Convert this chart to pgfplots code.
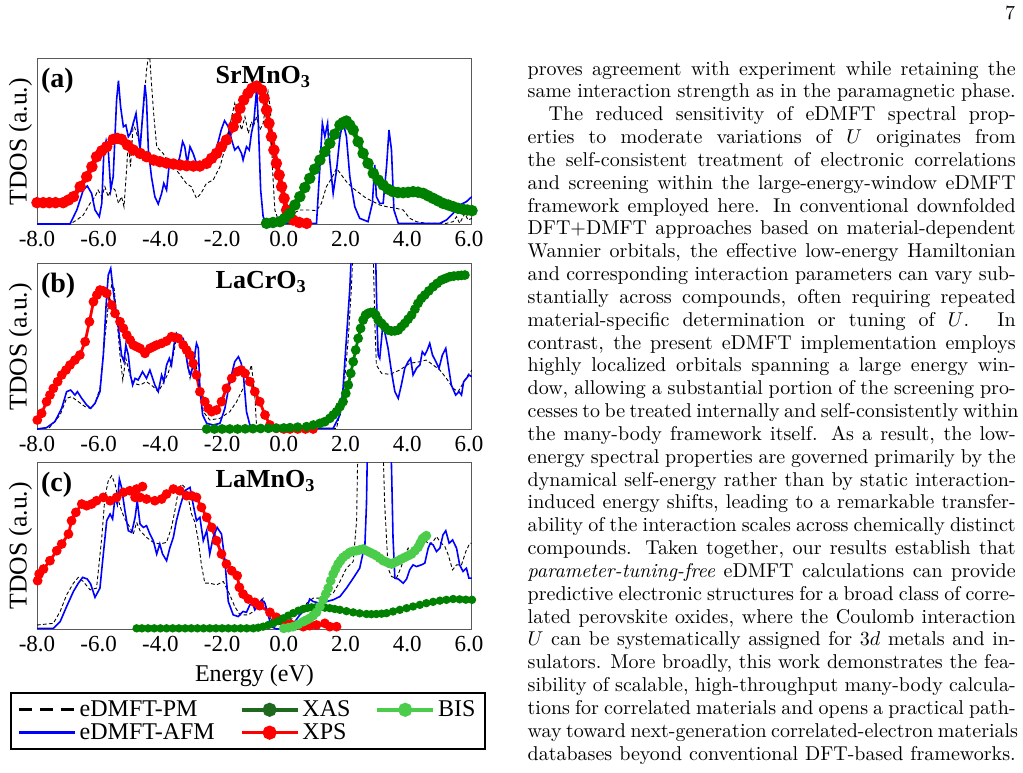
\documentclass[border=0pt]{standalone}
\usepackage{fontspec}
\newfontfamily\figfont{Liberation Serif}
\usepackage{pgfplots}
\pgfplotsset{compat=1.18}
\definecolor{afm}{RGB}{0,0,255}
\definecolor{xps}{RGB}{255,0,0}
\definecolor{xas}{RGB}{0,128,0}
\definecolor{xasleg}{RGB}{30,105,30}
\definecolor{bis}{RGB}{75,205,75}
\pgfplotsset{
  panel/.style={scale only axis, width=217.5pt, height=83.3pt,
    xmin=-8, xmax=6.1, ymin=0, ymax=1,
    xtick={-8,-6,-4,-2,0,2,4,6},
    xticklabels={-8.0,-6.0,-4.0,-2.0,0.0,2.0,4.0,6.0},
    ytick=\empty, major tick length=0pt,
    axis line style={black!65, line width=0.5pt},
    xticklabel style={font=\figfont\fontsize{11.5}{12}\selectfont, anchor=base, inner sep=0pt, yshift=-11pt},
    ylabel={TDOS (a.u.)},
    ylabel style={font=\figfont\fontsize{12.8}{14}\selectfont, at={(axis description cs:-0.024,0.5)}, anchor=base, inner sep=0pt},
    clip=true},
  pm/.style={black, dash pattern=on 1.8pt off 1.2pt, line width=0.45pt, forget plot},
  afmline/.style={afm, line width=0.8pt, forget plot},
  expA/.style={line width=2.4pt, mark=*, mark size=1.6pt, forget plot},
  expB/.style={line width=1.4pt, mark=*, mark size=1.7pt, forget plot},
}
\newcommand\Lab[2]{%
  \node[anchor=base west, inner sep=0pt, font=\figfont\bfseries\fontsize{14}{16}\selectfont] at (rel axis cs:0.0085,0.823) {#1};
  \node[anchor=base west, inner sep=0pt, font=\figfont\bfseries\fontsize{13}{15}\selectfont] at (rel axis cs:0.41,0.85) {#2};}
\newcommand\Ln[2]{\node[anchor=base west, inner sep=0pt, font=\fontsize{10}{11.4}\selectfont] at (263.65pt,{348.45pt-#1*11.415pt}) {#2};}
\newcommand\J[1]{\makebox[244pt][s]{#1}}
\begin{document}
\begin{tikzpicture}
\path[use as bounding box] (0,0) rectangle (511.5pt,386pt);
% ---------------- (a) SrMnO3
\begin{axis}[panel, at={(18.5pt,273.5pt)}, anchor=south west]
\addplot[xps, expA] coordinates {(-8.0,0.134) (-7.8,0.134) (-7.6,0.134) (-7.4,0.134) (-7.15,0.134) (-6.98,0.15) (-6.82,0.17) (-6.6,0.23) (-6.39,0.29) (-6.22,0.35) (-6.07,0.41) (-5.9,0.445) (-5.74,0.47) (-5.53,0.514) (-5.4,0.52) (-5.26,0.514) (-5.07,0.48) (-4.88,0.45) (-4.66,0.43) (-4.45,0.41) (-4.22,0.39) (-4.02,0.38) (-3.8,0.372) (-3.58,0.366) (-3.36,0.36) (-3.15,0.356) (-2.93,0.354) (-2.72,0.354) (-2.5,0.37) (-2.34,0.4) (-2.18,0.43) (-2.02,0.47) (-1.86,0.51) (-1.64,0.59) (-1.53,0.64) (-1.42,0.70) (-1.3,0.75) (-1.16,0.79) (-1.03,0.82) (-0.88,0.834) (-0.72,0.81) (-0.64,0.76) (-0.56,0.69) (-0.48,0.61) (-0.40,0.53) (-0.32,0.45) (-0.24,0.37) (-0.15,0.30) (-0.07,0.23) (0.01,0.16) (0.09,0.09) (0.2,0.05) (0.30,0.03) (0.5,0.015) (0.74,0.01)};
\addplot[xas, expA] coordinates {(-0.56,0.01) (-0.35,0.015) (-0.13,0.02) (0.03,0.04) (0.20,0.07) (0.36,0.12) (0.52,0.17) (0.68,0.225) (0.84,0.28) (1.0,0.335) (1.17,0.39) (1.33,0.44) (1.49,0.49) (1.65,0.545) (1.82,0.60) (1.92,0.615) (2.03,0.624) (2.14,0.60) (2.25,0.57) (2.41,0.50) (2.57,0.43) (2.73,0.37) (2.90,0.31) (3.06,0.27) (3.22,0.24) (3.38,0.215) (3.54,0.20) (3.7,0.195) (3.87,0.194) (4.03,0.196) (4.19,0.20) (4.35,0.197) (4.52,0.19) (4.68,0.175) (4.84,0.16) (5.0,0.145) (5.16,0.13) (5.33,0.12) (5.49,0.11) (5.65,0.1) (5.81,0.094) (5.95,0.09) (6.10,0.086)};
\addplot[pm] coordinates {(-8.0,0.006) (-6.93,0.006) (-6.71,0.03) (-6.50,0.06) (-6.28,0.13) (-6.12,0.17) (-6.02,0.21) (-5.90,0.17) (-5.80,0.23) (-5.69,0.17) (-5.58,0.23) (-5.47,0.21) (-5.36,0.13) (-5.26,0.17) (-5.18,0.11) (-5.09,0.35) (-5.04,0.51) (-4.97,0.35) (-4.88,0.61) (-4.77,0.55) (-4.66,0.49) (-4.55,0.69) (-4.45,0.93) (-4.36,1.05) (-4.29,0.85) (-4.21,0.65) (-4.12,0.47) (-4.02,0.45) (-3.91,0.43) (-3.80,0.39) (-3.69,0.35) (-3.58,0.37) (-3.48,0.33) (-3.32,0.29) (-3.16,0.25) (-3.00,0.23) (-2.83,0.16) (-2.68,0.19) (-2.51,0.25) (-2.29,0.27) (-2.07,0.35) (-1.86,0.49) (-1.69,0.65) (-1.59,0.73) (-1.48,0.65) (-1.37,0.57) (-1.26,0.65) (-1.15,0.55) (-1.05,0.62) (-0.99,0.59) (-0.88,0.65) (-0.78,0.57) (-0.67,0.61) (-0.56,0.75) (-0.51,0.80) (-0.43,0.69) (-0.37,0.35) (-0.29,0.09) (-0.18,0.03) (0.09,0.05) (0.30,0.07) (0.52,0.09) (0.84,0.09) (1.06,0.086) (1.22,0.13) (1.38,0.23) (1.55,0.28) (1.71,0.34) (1.87,0.30) (2.03,0.26) (2.25,0.22) (2.46,0.19) (2.68,0.16) (2.90,0.14) (3.11,0.12) (3.33,0.11) (3.65,0.10) (3.87,0.09) (4.08,0.04) (4.30,0.02) (4.62,0.01) (5.27,0.01) (5.49,0.02) (5.60,0.05) (5.70,0.01) (5.87,0.07) (5.97,0.03) (6.10,0.04)};
\addplot[afmline] coordinates {(-8.0,0.006) (-6.93,0.006) (-6.71,0.09) (-6.50,0.21) (-6.37,0.234) (-6.23,0.19) (-6.12,0.09) (-5.98,0.05) (-5.90,0.13) (-5.83,0.45) (-5.76,0.506) (-5.69,0.45) (-5.61,0.21) (-5.53,0.29) (-5.42,0.75) (-5.36,0.866) (-5.29,0.71) (-5.20,0.59) (-5.12,0.60) (-5.04,0.53) (-4.97,0.55) (-4.88,0.61) (-4.79,0.67) (-4.72,0.55) (-4.66,0.45) (-4.58,0.65) (-4.50,0.84) (-4.45,0.75) (-4.39,0.45) (-4.29,0.29) (-4.18,0.17) (-4.07,0.126) (-3.96,0.19) (-3.89,0.25) (-3.80,0.21) (-3.71,0.37) (-3.64,0.36) (-3.58,0.37) (-3.53,0.37) (-3.45,0.36) (-3.37,0.41) (-3.28,0.50) (-3.21,0.47) (-3.13,0.37) (-3.04,0.47) (-2.94,0.43) (-2.83,0.37) (-2.72,0.35) (-2.62,0.36) (-2.46,0.37) (-2.29,0.41) (-2.14,0.49) (-2.03,0.57) (-1.92,0.626) (-1.80,0.59) (-1.69,0.51) (-1.59,0.45) (-1.48,0.47) (-1.37,0.43) (-1.32,0.39) (-1.21,0.47) (-1.12,0.45) (-1.05,0.55) (-0.97,0.62) (-0.88,0.82) (-0.83,0.63) (-0.75,0.21) (-0.67,0.05) (-0.56,0.01) (1.06,0.01) (1.17,0.35) (1.25,0.61) (1.33,0.53) (1.42,0.61) (1.49,0.39) (1.60,0.19) (1.71,0.33) (1.82,0.53) (1.92,0.62) (2.03,0.53) (2.14,0.29) (2.30,0.11) (2.46,0.04) (2.73,0.02) (2.87,0.13) (2.95,0.36) (3.00,0.17) (3.11,0.13) (3.22,0.13) (3.33,0.35) (3.41,0.57) (3.49,0.45) (3.57,0.09) (3.71,0.01) (5.06,0.01) (5.27,0.03) (5.49,0.07) (5.70,0.12) (5.92,0.14) (6.03,0.16) (6.10,0.17)};
\Lab{(a)}{SrMnO\textsubscript{3}}
\end{axis}
% ---------------- (b) LaCrO3
\begin{axis}[panel, at={(18.5pt,171pt)}, anchor=south west]
\addplot[xps, expB] coordinates {(-7.99,0.06) (-7.85,0.10) (-7.69,0.17) (-7.58,0.21) (-7.47,0.25) (-7.33,0.29) (-7.20,0.33) (-7.06,0.36) (-6.93,0.39) (-6.77,0.42) (-6.61,0.45) (-6.44,0.53) (-6.30,0.65) (-6.17,0.77) (-6.06,0.81) (-5.96,0.84) (-5.85,0.835) (-5.74,0.82) (-5.58,0.75) (-5.47,0.70) (-5.31,0.65) (-5.20,0.61) (-5.09,0.57) (-4.98,0.54) (-4.88,0.51) (-4.77,0.50) (-4.66,0.49) (-4.50,0.46) (-4.34,0.49) (-4.23,0.50) (-4.12,0.51) (-3.96,0.52) (-3.80,0.534) (-3.64,0.56) (-3.53,0.555) (-3.42,0.55) (-3.26,0.51) (-3.15,0.48) (-3.04,0.45) (-2.94,0.40) (-2.83,0.33) (-2.72,0.23) (-2.56,0.17) (-2.45,0.13) (-2.34,0.11) (-2.18,0.12) (-2.02,0.17) (-1.86,0.25) (-1.69,0.31) (-1.51,0.35) (-1.38,0.36) (-1.26,0.34) (-1.10,0.29) (-0.94,0.23) (-0.78,0.17) (-0.61,0.09) (-0.45,0.03) (-0.24,0.01) (0.0,0.006) (0.2,0.006) (0.45,0.006) (0.7,0.006) (0.95,0.006)};
\addplot[xas, expB] coordinates {(-2.5,0.006) (-2.25,0.006) (-2.0,0.006) (-1.75,0.006) (-1.5,0.006) (-1.25,0.007) (-1.0,0.008) (-0.75,0.009) (-0.5,0.01) (-0.25,0.011) (0.0,0.012) (0.2,0.014) (0.45,0.017) (0.74,0.02) (0.96,0.03) (1.17,0.04) (1.33,0.05) (1.49,0.07) (1.60,0.09) (1.71,0.11) (1.82,0.14) (1.92,0.17) (2.01,0.22) (2.09,0.27) (2.17,0.34) (2.25,0.41) (2.33,0.48) (2.41,0.55) (2.49,0.61) (2.57,0.66) (2.65,0.69) (2.73,0.70) (2.81,0.705) (2.90,0.706) (2.98,0.69) (3.06,0.66) (3.17,0.64) (3.27,0.62) (3.38,0.60) (3.49,0.594) (3.60,0.595) (3.71,0.60) (3.81,0.62) (3.92,0.64) (4.03,0.665) (4.14,0.69) (4.25,0.725) (4.35,0.76) (4.46,0.79) (4.57,0.81) (4.70,0.835) (4.84,0.86) (4.97,0.88) (5.11,0.90) (5.24,0.91) (5.38,0.92) (5.51,0.924) (5.65,0.926) (5.76,0.928) (5.87,0.93)};
\addplot[pm] coordinates {(-8.0,0.006) (-7.6,0.014) (-7.25,0.09) (-7.04,0.19) (-6.88,0.20) (-6.66,0.17) (-6.44,0.14) (-6.28,0.13) (-6.12,0.16) (-5.96,0.25) (-5.80,0.55) (-5.69,0.75) (-5.58,0.87) (-5.50,0.85) (-5.42,0.69) (-5.31,0.45) (-5.22,0.30) (-5.12,0.43) (-4.99,0.33) (-4.88,0.28) (-4.66,0.27) (-4.45,0.29) (-4.23,0.26) (-4.07,0.23) (-3.91,0.28) (-3.75,0.34) (-3.58,0.45) (-3.48,0.55) (-3.37,0.53) (-3.21,0.49) (-3.04,0.31) (-2.88,0.45) (-2.77,0.29) (-2.61,0.11) (-2.40,0.06) (-2.07,0.07) (-1.75,0.11) (-1.53,0.17) (-1.32,0.25) (-1.15,0.33) (-1.05,0.39) (-0.94,0.21) (-0.88,0.01) (1.71,0.01) (1.92,0.19) (2.09,0.55) (2.19,0.85) (2.30,1.3) (2.85,1.3) (2.90,1.05) (2.95,0.65) (3.0,0.39) (3.17,0.34) (3.44,0.334) (3.76,0.36) (4.08,0.40) (4.41,0.41) (4.62,0.42) (4.84,0.39) (5.06,0.36) (5.27,0.31) (5.49,0.25) (5.65,0.23) (5.81,0.28) (5.97,0.33) (6.10,0.36)};
\addplot[afmline] coordinates {(-8.0,0.006) (-7.69,0.014) (-7.42,0.05) (-7.20,0.13) (-7.04,0.23) (-6.91,0.24) (-6.77,0.21) (-6.69,0.23) (-6.55,0.19) (-6.39,0.15) (-6.26,0.13) (-6.12,0.16) (-5.96,0.23) (-5.85,0.45) (-5.76,0.75) (-5.69,0.93) (-5.61,0.97) (-5.55,0.87) (-5.47,0.75) (-5.36,0.61) (-5.26,0.45) (-5.18,0.41) (-5.12,0.51) (-5.04,0.45) (-4.97,0.33) (-4.90,0.27) (-4.82,0.31) (-4.72,0.30) (-4.58,0.35) (-4.45,0.31) (-4.34,0.36) (-4.25,0.31) (-4.18,0.27) (-4.07,0.23) (-3.96,0.33) (-3.89,0.29) (-3.80,0.39) (-3.71,0.43) (-3.64,0.39) (-3.56,0.51) (-3.48,0.58) (-3.37,0.55) (-3.26,0.55) (-3.17,0.45) (-3.10,0.37) (-3.02,0.33) (-2.94,0.39) (-2.83,0.52) (-2.77,0.49) (-2.72,0.25) (-2.63,0.09) (-2.50,0.04) (-2.29,0.03) (-2.07,0.04) (-1.91,0.13) (-1.75,0.29) (-1.59,0.41) (-1.47,0.44) (-1.38,0.40) (-1.30,0.31) (-1.21,0.11) (-1.10,0.03) (-0.88,0.01) (1.60,0.01) (1.82,0.09) (1.92,0.25) (2.03,0.55) (2.14,0.85) (2.20,1.1) (2.30,1.5) (2.85,1.5) (2.97,1.1) (3.03,0.6) (3.06,0.45) (3.11,0.43) (3.20,0.61) (3.27,0.59) (3.38,0.49) (3.49,0.35) (3.60,0.23) (3.71,0.19) (3.81,0.27) (3.92,0.37) (4.03,0.41) (4.11,0.43) (4.19,0.33) (4.30,0.37) (4.41,0.39) (4.49,0.47) (4.57,0.45) (4.65,0.48) (4.73,0.52) (4.82,0.45) (4.93,0.41) (5.03,0.37) (5.14,0.45) (5.25,0.49) (5.33,0.39) (5.43,0.27) (5.57,0.21) (5.68,0.23) (5.76,0.21) (5.83,0.29) (5.92,0.31) (6.0,0.33) (6.10,0.32)};
\Lab{(b)}{LaCrO\textsubscript{3}}
\end{axis}
% ---------------- (c) LaMnO3
\begin{axis}[panel, at={(18.5pt,71.5pt)}, anchor=south west,
  xlabel={Energy (eV)},
  xlabel style={font=\figfont\fontsize{12}{13}\selectfont, at={(axis description cs:0.5,-0.317)}, anchor=base, inner sep=0pt},
  legend columns=3, legend cell align=left,
  legend style={at={(-0.0621,-0.3795)}, anchor=north west, draw=black, line width=1.1pt, fill=white,
    font=\figfont\fontsize{12}{13}\selectfont, inner xsep=3.5pt, inner ysep=2pt, row sep=-1pt,
    nodes={inner sep=1.5pt},
    /tikz/every even column/.append style={column sep=11pt}},
  legend image code/.code={\draw[mark repeat=2, mark phase=2, #1] plot coordinates {(0pt,0pt) (14pt,0pt) (28pt,0pt)};}]
\addlegendimage{black, line width=1.3pt, dash pattern=on 6.5pt off 3.8pt}
\addlegendentry{eDMFT-PM}
\addlegendimage{xasleg, line width=1.8pt, mark=*, mark size=2.6pt}
\addlegendentry{XAS}
\addlegendimage{bis, line width=1.8pt, mark=*, mark size=2.6pt}
\addlegendentry{BIS}
\addlegendimage{afm, line width=1.3pt}
\addlegendentry{eDMFT-AFM}
\addlegendimage{xps, line width=1.8pt, mark=*, mark size=2.6pt}
\addlegendentry{XPS}
\addplot[xps, expB] coordinates {(-7.98,0.29) (-7.93,0.33) (-7.79,0.36) (-7.58,0.41) (-7.36,0.47) (-7.20,0.51) (-6.98,0.57) (-6.88,0.65) (-6.74,0.70) (-6.55,0.75) (-6.39,0.74) (-6.23,0.75) (-6.07,0.77) (-5.85,0.79) (-5.63,0.77) (-5.42,0.79) (-5.20,0.82) (-4.99,0.83) (-4.77,0.84) (-4.58,0.855)};
\addplot[xps, expB] coordinates {(-4.82,0.79) (-4.66,0.79) (-4.45,0.78) (-4.18,0.77) (-3.96,0.78) (-3.80,0.81) (-3.58,0.84) (-3.37,0.83) (-3.15,0.80) (-2.99,0.80) (-2.83,0.79) (-2.67,0.73) (-2.50,0.67) (-2.34,0.61) (-2.18,0.53) (-2.02,0.45) (-1.86,0.39) (-1.69,0.35) (-1.51,0.32) (-1.44,0.25) (-1.32,0.21) (-1.15,0.18) (-0.94,0.16) (-0.78,0.14) (-0.45,0.10) (-0.24,0.07) (-0.02,0.05) (0.20,0.03) (0.36,0.02) (0.63,0.014) (0.84,0.02) (1.06,0.024) (1.33,0.034) (1.49,0.014) (1.71,0.014)};
\addplot[xas, line width=1.5pt, mark=*, mark size=1.3pt, forget plot] coordinates {(-4.77,0.004) (-4.6,0.004) (-4.4,0.004) (-4.2,0.004) (-4.0,0.004) (-3.8,0.004) (-3.6,0.004) (-3.4,0.004) (-3.2,0.004) (-3.0,0.004) (-2.8,0.004) (-2.6,0.004) (-2.4,0.004) (-2.2,0.004) (-2.0,0.004) (-1.8,0.004) (-1.6,0.004) (-1.4,0.004) (-1.2,0.004) (-0.99,0.004) (-0.83,0.008) (-0.67,0.014) (-0.50,0.024) (-0.34,0.034) (-0.18,0.048) (-0.02,0.064) (0.14,0.08) (0.30,0.095) (0.47,0.11) (0.63,0.12) (0.76,0.126) (0.90,0.13) (1.03,0.13) (1.17,0.13) (1.33,0.128) (1.49,0.125) (1.65,0.12) (1.82,0.115) (2.03,0.107) (2.25,0.10) (2.46,0.094) (2.68,0.09) (2.84,0.089) (3.0,0.09) (3.17,0.092) (3.33,0.095) (3.54,0.105) (3.76,0.115) (3.98,0.125) (4.19,0.135) (4.41,0.145) (4.62,0.155) (4.84,0.163) (5.06,0.17) (5.27,0.175) (5.49,0.18) (5.7,0.178) (5.9,0.176) (6.10,0.175)};
\addplot[bis, expB] coordinates {(0.0,0.004) (0.15,0.008) (0.30,0.014) (0.47,0.028) (0.63,0.044) (0.74,0.054) (0.84,0.064) (0.95,0.08) (1.06,0.10) (1.17,0.135) (1.28,0.175) (1.36,0.21) (1.44,0.245) (1.52,0.29) (1.60,0.33) (1.68,0.36) (1.76,0.39) (1.84,0.41) (1.92,0.43) (2.03,0.445) (2.14,0.46) (2.25,0.467) (2.36,0.47) (2.46,0.475) (2.57,0.48) (2.68,0.47) (2.79,0.46) (2.90,0.45) (3.0,0.44) (3.11,0.425) (3.22,0.41) (3.35,0.40) (3.49,0.39) (3.60,0.40) (3.71,0.41) (3.81,0.42) (3.92,0.43) (4.03,0.44) (4.14,0.45) (4.25,0.47) (4.35,0.49) (4.42,0.515) (4.49,0.54) (4.55,0.55) (4.62,0.56)};
\addplot[pm] coordinates {(-8.0,0.024) (-7.47,0.034) (-7.25,0.105) (-7.04,0.205) (-6.82,0.275) (-6.66,0.31) (-6.50,0.285) (-6.28,0.235) (-6.07,0.245) (-5.90,0.55) (-5.80,0.79) (-5.69,0.89) (-5.58,0.92) (-5.47,0.87) (-5.36,0.77) (-5.26,0.71) (-5.15,0.66) (-4.99,0.61) (-4.88,0.57) (-4.77,0.64) (-4.66,0.59) (-4.45,0.55) (-4.23,0.52) (-4.02,0.51) (-3.80,0.52) (-3.64,0.61) (-3.53,0.71) (-3.42,0.83) (-3.31,0.87) (-3.21,0.85) (-3.10,0.79) (-2.99,0.69) (-2.88,0.64) (-2.77,0.53) (-2.67,0.385) (-2.56,0.275) (-2.40,0.275) (-2.18,0.265) (-1.96,0.285) (-1.75,0.205) (-1.59,0.135) (-1.42,0.085) (-1.21,0.085) (-1.15,0.085) (-0.99,0.105) (-0.83,0.135) (-0.67,0.185) (-0.56,0.125) (-0.40,0.054) (-0.24,0.024) (0.09,0.034) (0.41,0.085) (0.68,0.145) (0.95,0.185) (1.17,0.185) (1.38,0.195) (1.60,0.215) (1.82,0.285) (2.03,0.365) (2.25,0.405) (2.36,0.65) (2.41,1.2) (3.20,1.2) (3.27,0.75) (3.38,0.365) (3.49,0.315) (3.65,0.305) (3.81,0.375) (3.92,0.445) (4.03,0.485) (4.14,0.425) (4.25,0.465) (4.41,0.505) (4.52,0.555) (4.62,0.525) (4.73,0.505) (4.84,0.525) (4.95,0.555) (5.06,0.525) (5.22,0.495) (5.33,0.445) (5.47,0.355) (5.60,0.385) (5.76,0.385) (5.90,0.465) (6.03,0.515) (6.10,0.515)};
\addplot[afmline] coordinates {(-8.0,0.004) (-7.47,0.004) (-7.25,0.044) (-7.04,0.135) (-6.82,0.225) (-6.66,0.275) (-6.52,0.31) (-6.37,0.30) (-6.26,0.27) (-6.12,0.19) (-5.96,0.245) (-5.85,0.45) (-5.74,0.65) (-5.63,0.69) (-5.55,0.66) (-5.47,0.79) (-5.40,0.75) (-5.33,0.90) (-5.26,0.85) (-5.15,0.71) (-5.04,0.59) (-4.93,0.58) (-4.82,0.67) (-4.75,0.77) (-4.66,0.63) (-4.55,0.61) (-4.45,0.62) (-4.34,0.57) (-4.23,0.53) (-4.12,0.45) (-4.02,0.51) (-3.93,0.45) (-3.80,0.41) (-3.69,0.49) (-3.58,0.55) (-3.48,0.65) (-3.37,0.73) (-3.21,0.83) (-3.04,0.85) (-2.94,0.75) (-2.83,0.65) (-2.72,0.67) (-2.61,0.53) (-2.50,0.59) (-2.40,0.45) (-2.29,0.55) (-2.16,0.61) (-2.02,0.57) (-1.91,0.41) (-1.80,0.165) (-1.64,0.085) (-1.48,0.075) (-1.32,0.105) (-1.21,0.10) (-1.10,0.145) (-1.01,0.155) (-0.94,0.115) (-0.83,0.145) (-0.72,0.175) (-0.61,0.155) (-0.51,0.085) (-0.40,0.014) (-0.24,0.0) (0.20,0.004) (0.52,0.085) (0.74,0.125) (0.84,0.18) (0.95,0.165) (1.17,0.155) (1.38,0.165) (1.60,0.175) (1.82,0.195) (2.03,0.245) (2.25,0.305) (2.46,0.365) (2.63,0.51) (2.68,0.75) (2.73,1.3) (3.45,1.3) (3.50,0.9) (3.54,0.55) (3.60,0.305) (3.71,0.30) (3.87,0.275) (3.98,0.30) (4.08,0.355) (4.19,0.385) (4.30,0.375) (4.46,0.385) (4.57,0.395) (4.68,0.485) (4.75,0.515) (4.84,0.505) (4.95,0.465) (5.06,0.485) (5.16,0.565) (5.25,0.59) (5.36,0.515) (5.47,0.535) (5.60,0.485) (5.70,0.385) (5.81,0.345) (5.92,0.365) (6.0,0.305) (6.10,0.305)};
\Lab{(c)}{LaMnO\textsubscript{3}}
\end{axis}
% ---------------- text column
\node[anchor=base east, inner sep=0pt, font=\fontsize{10}{11.4}\selectfont] at (507.8pt,376.3pt) {7};
\Ln{0}{\J{proves agreement with experiment while retaining the}}
\Ln{1}{\J{same interaction strength as in the paramagnetic phase.}}
\Ln{2}{\hspace*{10.5pt}\makebox[233.5pt][s]{The reduced sensitivity of eDMFT spectral prop-}}
\Ln{3}{\J{erties to moderate variations of $U$ originates from}}
\Ln{4}{\J{the self-consistent treatment of electronic correlations}}
\Ln{5}{\J{and screening within the large-energy-window eDMFT}}
\Ln{6}{\J{framework employed here. In conventional downfolded}}
\Ln{7}{\J{DFT+DMFT approaches based on material-dependent}}
\Ln{8}{\J{Wannier orbitals, the effective low-energy Hamiltonian}}
\Ln{9}{\J{and corresponding interaction parameters can vary sub-}}
\Ln{10}{\J{stantially across compounds, often requiring repeated}}
\Ln{11}{\J{material-specific determination or tuning of $U$. In}}
\Ln{12}{\J{contrast, the present eDMFT implementation employs}}
\Ln{13}{\J{highly localized orbitals spanning a large energy win-}}
\Ln{14}{\J{dow, allowing a substantial portion of the screening pro-}}
\Ln{15}{\J{cesses to be treated internally and self-consistently within}}
\Ln{16}{\J{the many-body framework itself. As a result, the low-}}
\Ln{17}{\J{energy spectral properties are governed primarily by the}}
\Ln{18}{\J{dynamical self-energy rather than by static interaction-}}
\Ln{19}{\J{induced energy shifts, leading to a remarkable transfer-}}
\Ln{20}{\J{ability of the interaction scales across chemically distinct}}
\Ln{21}{\J{compounds. Taken together, our results establish that}}
\Ln{22}{\J{\textit{parameter-tuning-free} eDMFT calculations can provide}}
\Ln{23}{\J{predictive electronic structures for a broad class of corre-}}
\Ln{24}{\J{lated perovskite oxides, where the Coulomb interaction}}
\Ln{25}{\J{$U$ can be systematically assigned for $3d$ metals and in-}}
\Ln{26}{\J{sulators. More broadly, this work demonstrates the fea-}}
\Ln{27}{\J{sibility of scalable, high-throughput many-body calcula-}}
\Ln{28}{\J{tions for correlated materials and opens a practical path-}}
\Ln{29}{\J{way toward next-generation correlated-electron materials}}
\Ln{30}{\J{databases beyond conventional DFT-based frameworks.}}
\end{tikzpicture}
\end{document}
